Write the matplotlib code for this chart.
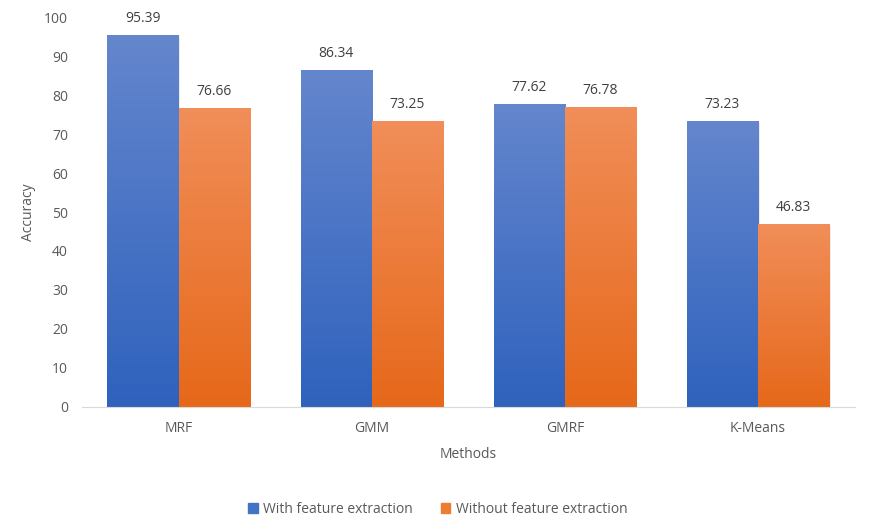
import numpy as np
import matplotlib.pyplot as plt
from matplotlib.colors import LinearSegmentedColormap
from matplotlib.patches import Rectangle

plt.rcParams["font.family"] = ["Open Sans", "DejaVu Sans"]

methods = ["MRF", "GMM", "GMRF", "K-Means"]
with_fe = [95.39, 86.34, 77.62, 73.23]
without_fe = [76.66, 73.25, 76.78, 46.83]
series_names = ["With feature extraction", "Without feature extraction"]

txt = "#595959"
blue_cm = LinearSegmentedColormap.from_list("b", ["#2F62BD", "#6486CD"])
orange_cm = LinearSegmentedColormap.from_list("o", ["#E6681A", "#F18E59"])

fig = plt.figure(figsize=(8.72, 5.32), dpi=100)
ax = fig.add_axes([0.094, 0.235, 0.886, 0.733])

w = 0.368
x = np.arange(len(methods))
grad = np.linspace(0, 1, 256).reshape(-1, 1)


def grad_bars(xs, vals, cmap):
    bars = ax.bar(xs, vals, w, color="none", edgecolor="none", zorder=3)
    for b in bars:
        x0, h = b.get_x(), b.get_height()
        # soft shadow on the right
        ax.add_patch(Rectangle((x0 + 0.008, 0), b.get_width(), h - 0.3,
                               facecolor="#000000", alpha=0.08,
                               edgecolor="none", zorder=2))
        ax.imshow(grad, cmap=cmap, origin="lower", aspect="auto",
                  extent=(x0, x0 + b.get_width(), 0, h), zorder=3)
    return bars


b1 = grad_bars(x - w / 2, with_fe, blue_cm)
b2 = grad_bars(x + w / 2, without_fe, orange_cm)

for xs, vals in ((x - w / 2, with_fe), (x + w / 2, without_fe)):
    for xi, v in zip(xs, vals):
        ax.text(xi, v + 2.4, f"{v:.2f}", ha="center", va="bottom",
                fontsize=10, color="#404040")

ax.set_xlim(-0.5, len(methods) - 0.5)
ax.set_ylim(0, 100)
ax.set_yticks(range(0, 101, 10))
ax.set_xticks(x)
ax.set_xticklabels(methods)
ax.tick_params(axis="both", length=0, colors=txt, labelsize=10)
ax.tick_params(axis="y", pad=10)
ax.tick_params(axis="x", pad=10)
for s in ("top", "right", "left"):
    ax.spines[s].set_visible(False)
ax.spines["bottom"].set_color("#D9D9D9")
ax.spines["bottom"].set_zorder(4)

ax.set_ylabel("Accuracy", color=txt, fontsize=10, labelpad=6)
ax.set_xlabel("Methods", color=txt, fontsize=10, labelpad=8)

handles = [Rectangle((0, 0), 1, 1, color="#4472C4"),
           Rectangle((0, 0), 1, 1, color="#ED7D31")]
fig.legend(handles, series_names, loc="center", bbox_to_anchor=(0.502, 0.042),
           ncol=2, frameon=False, fontsize=10, handlelength=0.7,
           handleheight=0.7, handletextpad=0.4, columnspacing=2.0,
           labelcolor=txt)

plt.savefig("out.png", dpi=100)
